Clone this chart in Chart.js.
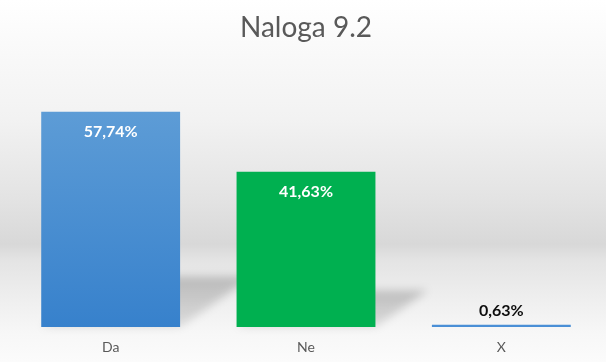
<!DOCTYPE html>
<html>
<head>
<meta charset="utf-8">
<script src="https://cdn.jsdelivr.net/npm/chart.js@4/dist/chart.umd.min.js"></script>
<style>
html,body{margin:0;padding:0;background:#fff;}
#wrap{width:606px;height:362px;position:relative;}
</style>
</head>
<body>
<div id="wrap"><canvas id="c" width="606" height="362"></canvas></div>
<script>
const categories = ["Da", "Ne", "X"];
const values = [57.74, 41.63, 0.63];
const barColors = ["#5B9BD5", "#00B050", "#4A8FD6"];
const titleText = "Naloga 9.2";

const bgPlugin = {
  id: 'bg',
  beforeDraw(chart) {
    const ctx = chart.ctx;
    const h = chart.height, w = chart.width;
    const g = ctx.createLinearGradient(0, 0, 0, h);
    g.addColorStop(0, '#ffffff');
    g.addColorStop(0.12, '#fafafa');
    g.addColorStop(0.33, '#f2f2f2');
    g.addColorStop(0.55, '#e3e3e3');
    g.addColorStop(0.675, '#d8d8d8');
    g.addColorStop(0.72, '#e4e4e4');
    g.addColorStop(0.82, '#eeeeee');
    g.addColorStop(0.92, '#f7f7f7');
    g.addColorStop(1, '#fbfbfb');
    ctx.save();
    ctx.fillStyle = g;
    ctx.fillRect(0, 0, w, h);
    ctx.restore();
  }
};

const shadowPlugin = {
  id: 'shadow',
  beforeDatasetsDraw(chart) {
    const ctx = chart.ctx;
    const meta = chart.getDatasetMeta(0);
    ctx.save();
    ctx.filter = 'blur(4px)';
    meta.data.forEach(el => {
      const p = el.getProps(['x', 'y', 'base', 'width'], true);
      const hh = p.base - p.y;
      if (hh < 5) return;
      const l = p.x - p.width / 2, r = p.x + p.width / 2;
      const dx = hh * 0.335, dy = hh * 0.235;
      const g = ctx.createLinearGradient(0, p.base - dy, 0, p.base);
      g.addColorStop(0, 'rgba(0,0,0,0.2)');
      g.addColorStop(1, 'rgba(0,0,0,0.10)');
      ctx.fillStyle = g;
      ctx.beginPath();
      ctx.moveTo(l, p.base);
      ctx.lineTo(r, p.base);
      ctx.lineTo(r + dx, p.base - dy);
      ctx.lineTo(l + dx, p.base - dy);
      ctx.closePath();
      ctx.fill();
    });
    ctx.restore();
  }
};

const labelPlugin = {
  id: 'vlabels',
  afterDatasetsDraw(chart) {
    const ctx = chart.ctx;
    const meta = chart.getDatasetMeta(0);
    ctx.save();
    ctx.font = 'bold 16px Lato, "Open Sans", sans-serif';
    ctx.textAlign = 'center';
    ctx.textBaseline = 'middle';
    meta.data.forEach((el, i) => {
      const p = el.getProps(['x', 'y', 'base'], true);
      const txt = values[i].toFixed(2).replace('.', ',') + '%';
      if (p.base - p.y > 40) {
        ctx.fillStyle = '#ffffff';
        ctx.fillText(txt, p.x, p.y + 20);
      } else {
        ctx.fillStyle = '#0d0d0d';
        ctx.fillText(txt, p.x, p.y - 14);
      }
    });
    ctx.restore();
  }
};

new Chart(document.getElementById('c'), {
  type: 'bar',
  data: {
    labels: categories,
    datasets: [{
      data: values,
      backgroundColor(ctx) {
        const chart = ctx.chart;
        if (ctx.dataIndex === 0 && chart.chartArea && chart.scales.y) {
          const y = chart.scales.y;
          const top = y.getPixelForValue(values[0]);
          const bot = y.getPixelForValue(0);
          const g = chart.ctx.createLinearGradient(0, top, 0, bot);
          g.addColorStop(0, '#5D9CD6');
          g.addColorStop(1, '#3781CC');
          return g;
        }
        return barColors[ctx.dataIndex];
      },
      borderWidth: 0,
      categoryPercentage: 0.711,
      barPercentage: 1
    }]
  },
  options: {
    responsive: false,
    animation: false,
    devicePixelRatio: 1,
    layout: { padding: { left: 13, right: 7, top: 0, bottom: 0 } },
    plugins: {
      legend: { display: false },
      tooltip: { enabled: false },
      title: {
        display: true,
        text: titleText,
        color: '#595959',
        font: { family: 'Lato, "Open Sans", sans-serif', size: 28, weight: '400', lineHeight: 1.2 },
        padding: { top: 11, bottom: 40 }
      }
    },
    scales: {
      x: {
        grid: { display: false, drawTicks: false },
        border: { display: false },
        ticks: { color: '#595959', font: { family: 'Lato, "Open Sans", sans-serif', size: 14, lineHeight: 1.2 }, padding: 12, maxRotation: 0 },
        afterFit(scale) { scale.height = 35; }
      },
      y: {
        display: false,
        min: 0,
        max: 65
      }
    }
  },
  plugins: [bgPlugin, shadowPlugin, labelPlugin]
});
</script>
</body>
</html>
